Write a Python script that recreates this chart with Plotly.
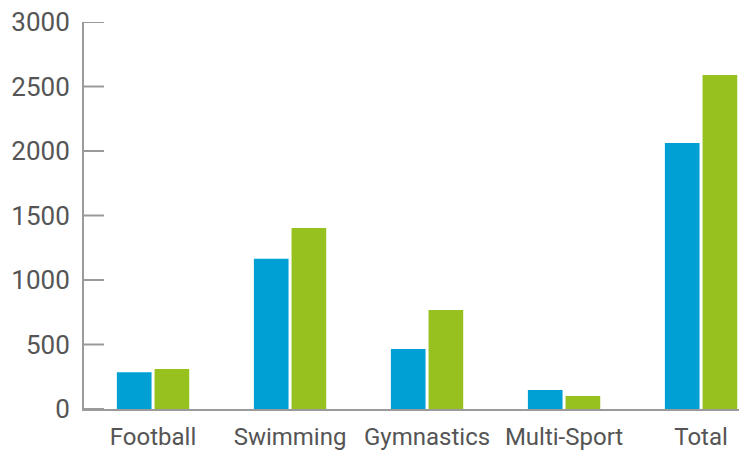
import plotly.graph_objects as go

categories = ["Football", "Swimming", "Gymnastics", "Multi-Sport", "Total"]
series_a = [285, 1165, 465, 147, 2062]
series_b = [310, 1403, 767, 100, 2590]
y_ticks = [0, 500, 1000, 1500, 2000, 2500, 3000]

BLUE = "#00A0D4"
GREEN = "#96C11F"
AXIS = "#9a9a9a"
TEXT = "#555555"

fig = go.Figure()
fig.add_trace(go.Bar(x=categories, y=series_a, marker=dict(color=BLUE, line=dict(width=0)), name="A"))
fig.add_trace(go.Bar(x=categories, y=series_b, marker=dict(color=GREEN, line=dict(width=0)), name="B"))

fig.update_layout(
    width=739, height=450,
    margin=dict(l=84, r=0, t=22, b=41),
    paper_bgcolor="white", plot_bgcolor="white",
    showlegend=False,
    barmode="group", bargap=0.45, bargroupgap=0.08,
    font=dict(family="Roboto", color=TEXT),
)
fig.update_xaxes(
    type="category", range=[-0.504, 4.277],
    showline=True, linecolor=AXIS, linewidth=2,
    showgrid=False, ticks="", tickfont=dict(size=24, color=TEXT),
    ticklabelstandoff=5,
)
fig.update_yaxes(
    range=[0, 3000], tickvals=y_ticks,
    showline=True, linecolor=AXIS, linewidth=2,
    showgrid=False, zeroline=False, ticks="",
    tickfont=dict(size=26, color=TEXT), ticklabelstandoff=7,
)
# short inward tick marks at each y tick value
for v in y_ticks:
    fig.add_shape(type="line", xref="x domain", yref="y",
                  x0=0, x1=20 / 655, y0=v, y1=v,
                  line=dict(color=AXIS, width=2), layer="above")

fig.write_html("out.html")
